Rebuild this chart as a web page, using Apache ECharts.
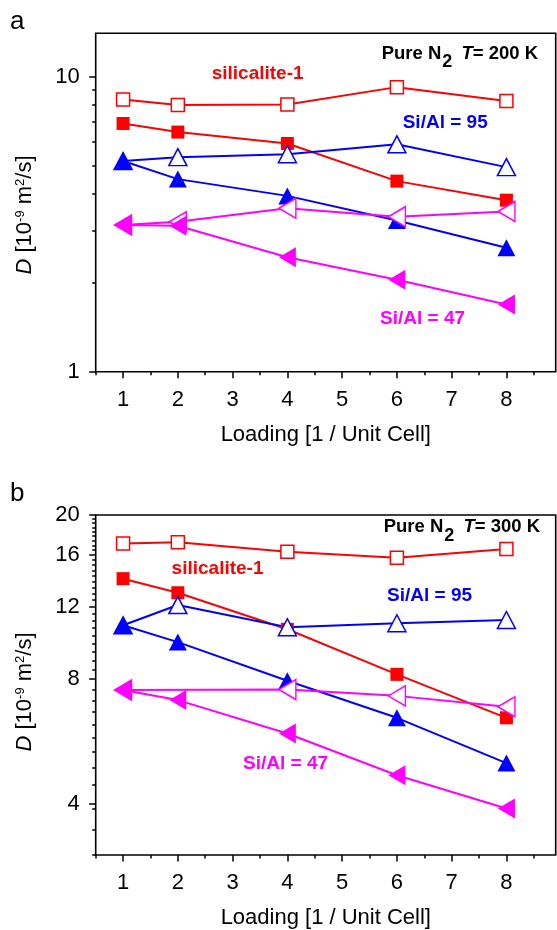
<!DOCTYPE html>
<html>
<head>
<meta charset="utf-8">
<script src="https://cdn.jsdelivr.net/npm/echarts@6/dist/echarts.min.js"></script>
<style>
  html, body { margin: 0; padding: 0; background: #fff; }
  #chart { width: 557px; height: 930px; }
</style>
</head>
<body>
<div id="chart"></div>
<script>
// Loading (molecules per unit cell) at which D was measured
const loading = [1, 2, 4, 6, 8];

// Panel a: T = 200 K, D in 1e-9 m^2/s
const sil_open_200  = [8.35, 8.0, 8.03, 9.2, 8.26];
const sil_fill_200  = [6.93, 6.48, 5.93, 4.42, 3.81];
const si95_open_200 = [5.17, 5.33, 5.45, 5.89, 4.93];
const si95_fill_200 = [5.17, 4.49, 3.94, 3.25, 2.63];
const si47_open_200 = [3.14, 3.22, 3.58, 3.35, 3.49];
const si47_fill_200 = [3.14, 3.12, 2.44, 2.05, 1.69];

// Panel b: T = 300 K
const sil_open_300  = [17.07, 17.17, 16.29, 15.75, 16.54];
const sil_fill_300  = [14.02, 12.96, 10.57, 8.22, 6.45];
const si95_open_300 = [10.81, 12.1, 10.69, 10.93, 11.13];
const si95_fill_300 = [10.81, 9.84, 7.93, 6.45, 5.01];
const si47_open_300 = [7.53, null, 7.55, 7.29, 6.86];
const si47_fill_300 = [7.53, 7.12, 5.91, 4.68, 3.89];

// Tick values
const xMajor = [1, 2, 3, 4, 5, 6, 7, 8];
const xMinor = [0.5, 1.5, 2.5, 3.5, 4.5, 5.5, 6.5, 7.5, 8.5];
const yMajorA = [1, 10];
const yMinorA = [2, 3, 4, 5, 6, 7, 8, 9];
const yMajorB = [4, 8, 12, 16, 20];
const yMinorB = [3, 3 + 4/9, 3 + 8/9];
[4, 8, 12, 16].forEach(function (m) { for (let k = 1; k <= 8; k++) yMinorB.push(m + k * 4 / 9); });

const FONT = "'Liberation Sans', Arial, Helvetica, sans-serif";
const RED = '#ff0000', BLUE = '#0000ff', MAG = '#ff00ff';
const LEFT_TRI = 'path://M0,10 L20,0 L20,20 Z';

const chart = echarts.init(document.getElementById('chart'), null, { renderer: 'canvas' });

function pairs(vals) {
  return loading.map(function (x, i) { return [x, vals[i]]; });
}

function line(vals, color, symbol, size, filled, axis) {
  return {
    type: 'line',
    xAxisIndex: axis, yAxisIndex: axis,
    data: pairs(vals),
    connectNulls: true,
    symbol: symbol,
    symbolSize: size,
    showAllSymbol: true,
    lineStyle: { color: color, width: 2 },
    itemStyle: { color: filled ? color : '#ffffff', borderColor: color, borderWidth: filled ? 0 : 1.5 },
    emphasis: { disabled: true },
    animation: false
  };
}

function xAxes(grid) {
  const base = {
    gridIndex: grid, type: 'value', min: 0.5, max: 8.9, position: 'bottom',
    axisLine: { show: false }, splitLine: { show: false }
  };
  return [
    Object.assign({}, base, {
      axisTick: { show: true, inside: false, length: 6.5, customValues: xMajor, lineStyle: { color: '#000', width: 1.5 } },
      axisLabel: { show: true, customValues: xMajor, margin: 17, fontSize: 22, color: '#000', fontFamily: FONT }
    }),
    Object.assign({}, base, {
      axisTick: { show: true, inside: false, length: 3.5, customValues: xMinor, lineStyle: { color: '#000', width: 1.5 } },
      axisLabel: { show: false }
    })
  ];
}

function yAxes(grid, min, max, major, minor) {
  const base = {
    gridIndex: grid, type: 'log', logBase: 10, min: min, max: max, position: 'left',
    axisLine: { show: false }, splitLine: { show: false }, minorTick: { show: false }
  };
  return [
    Object.assign({}, base, {
      axisTick: { show: true, inside: false, length: 6.5, customValues: major, lineStyle: { color: '#000', width: 1.5 } },
      axisLabel: { show: true, customValues: major, margin: 16, fontSize: 22, color: '#000', fontFamily: FONT,
                   formatter: function (v) { return String(Math.round(v)); } }
    }),
    Object.assign({}, base, {
      axisTick: { show: true, inside: false, length: 3.5, customValues: minor, lineStyle: { color: '#000', width: 1.5 } },
      axisLabel: { show: false }
    })
  ];
}

const xA = xAxes(0), xB = xAxes(1);
const yA = yAxes(0, 1, 14, yMajorA, yMinorA), yB = yAxes(1, 3, 20, yMajorB, yMinorB);

const SQ = 13, TRI = [18, 17], LTRI = [17, 20];

// series per panel: main axes of panel a are index 0, panel b are index 2
const series = [
  line(sil_open_200, RED, 'rect', SQ, false, 0),
  line(sil_fill_200, RED, 'rect', SQ, true, 0),
  line(si95_open_200, BLUE, 'triangle', TRI, false, 0),
  line(si95_fill_200, BLUE, 'triangle', TRI, true, 0),
  line(si47_open_200, MAG, LEFT_TRI, LTRI, false, 0),
  line(si47_fill_200, MAG, LEFT_TRI, LTRI, true, 0),
  line(sil_open_300, RED, 'rect', SQ, false, 2),
  line(sil_fill_300, RED, 'rect', SQ, true, 2),
  line(si95_open_300, BLUE, 'triangle', TRI, false, 2),
  line(si95_fill_300, BLUE, 'triangle', TRI, true, 2),
  line(si47_open_300, MAG, LEFT_TRI, LTRI, false, 2),
  line(si47_fill_300, MAG, LEFT_TRI, LTRI, true, 2)
];

function txt(x, y, text, size, color, weight) {
  return {
    type: 'text', x: x, y: y, silent: true,
    style: { text: text, fill: color, font: (weight ? weight + ' ' : '') + size + 'px ' + FONT,
             align: 'left', verticalAlign: 'middle' }
  };
}

function title(x, y, temp) {
  return {
    type: 'text', x: x, y: y, silent: true,
    style: {
      text: '{b|Pure N}{sub|2}{b| }{it|T}{b|= ' + temp + ' K}',
      align: 'left', verticalAlign: 'top',
      rich: {
        b: { font: 'bold 18.5px ' + FONT, lineHeight: 21, fill: '#000', verticalAlign: 'top' },
        it: { font: 'italic bold 18.5px ' + FONT, lineHeight: 21, fill: '#000', verticalAlign: 'top' },
        sub: { font: 'bold 18px ' + FONT, lineHeight: 18, fill: '#000', verticalAlign: 'top', padding: [9, 4, 0, 1] }
      }
    }
  };
}

function yTitle(x, y) {
  return {
    type: 'text', x: x, y: y, rotation: Math.PI / 2, silent: true,
    style: {
      text: '{i|D}{n| [10}{s|-9}{n| m}{s|2}{n|/s]}',
      align: 'center', verticalAlign: 'middle',
      rich: {
        i: { font: 'italic 22px ' + FONT, lineHeight: 22, fill: '#000', verticalAlign: 'bottom' },
        n: { font: '22px ' + FONT, lineHeight: 22, fill: '#000', verticalAlign: 'bottom' },
        s: { font: '13px ' + FONT, lineHeight: 13, fill: '#000', verticalAlign: 'top' }
      }
    }
  };
}

function xTitle(x, y) {
  return {
    type: 'text', x: x, y: y, silent: true,
    style: { text: 'Loading [1 / Unit Cell]', fill: '#000', font: '22px ' + FONT, align: 'center', verticalAlign: 'middle' }
  };
}

const graphics = [
  txt(10, 22, 'a', 26, '#000'),
  title(381.7, 44.5, 200),
  txt(211.7, 73.3, 'silicalite-1', 19, RED, 'bold'),
  txt(402.7, 122.7, 'Si/Al = 95', 19, BLUE, 'bold'),
  txt(380, 318.3, 'Si/Al = 47', 19, MAG, 'bold'),
  yTitle(25, 215),
  xTitle(325.8, 435),

  txt(10, 494, 'b', 26, '#000'),
  title(383.7, 517.8, 300),
  txt(171.6, 568.3, 'silicalite-1', 19, RED, 'bold'),
  txt(387, 596, 'Si/Al = 95', 19, BLUE, 'bold'),
  txt(243, 764, 'Si/Al = 47', 19, MAG, 'bold'),
  yTitle(25, 692),
  xTitle(325.8, 918)
];

chart.setOption({
  animation: false,
  backgroundColor: '#ffffff',
  grid: [
    { left: 95.7, top: 33.3, width: 460, height: 338.4, show: true, borderColor: '#000', borderWidth: 1.6, backgroundColor: 'transparent', containLabel: false },
    { left: 95.7, top: 515, width: 460, height: 340, show: true, borderColor: '#000', borderWidth: 1.6, backgroundColor: 'transparent', containLabel: false }
  ],
  xAxis: [xA[0], xA[1], xB[0], xB[1]],
  yAxis: [yA[0], yA[1], yB[0], yB[1]],
  series: series,
  graphic: graphics
});
</script>
</body>
</html>
